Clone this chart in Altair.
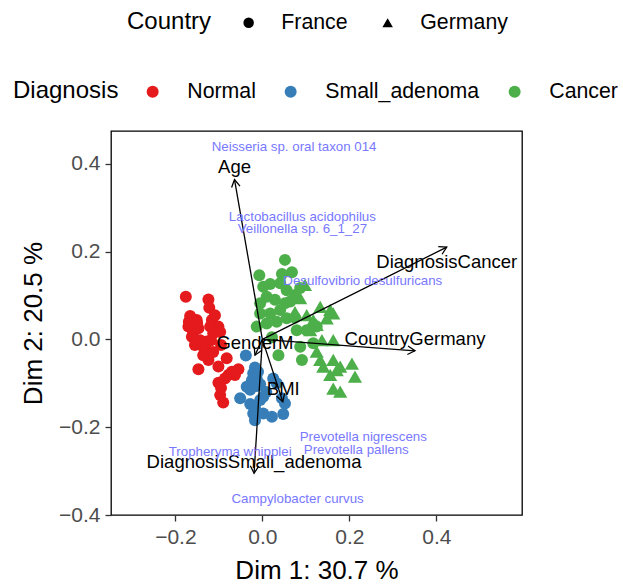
import math

import altair as alt
import pandas as pd

# ---- sample scores on the first two dimensions ----
normal_x = [-0.176, -0.124, -0.122, -0.169, -0.151, -0.170, -0.159, -0.147, -0.116, -0.120,
            -0.101, -0.097, -0.113, -0.162, -0.143, -0.128, -0.155, -0.136, -0.136, -0.124,
            -0.128, -0.082, -0.147, -0.101, -0.055, -0.063, -0.078, -0.086, -0.101, -0.097,
            -0.090, -0.166, -0.109, -0.118, -0.095, -0.113, -0.070, -0.095, -0.150]
normal_y = [0.097, 0.091, 0.072, 0.040, 0.044, 0.029, 0.017, 0.025, 0.044, 0.029,
            0.029, 0.017, 0.014, 0.006, -0.002, -0.005, -0.013, -0.017, -0.036, -0.047,
            -0.024, -0.043, -0.068, -0.062, -0.068, -0.081, -0.081, -0.089, -0.099, -0.127,
            -0.144, 0.053, 0.055, -0.002, -0.013, -0.029, -0.074, -0.111, 0.037]

small_x = [-0.038, -0.017, -0.021, -0.013, -0.024, -0.036, -0.028, -0.013, -0.005, 0.025,
           0.033, -0.051, -0.028, -0.017, -0.005, 0.002, 0.052, 0.048, -0.021, -0.017,
           0.002, 0.022, 0.045, -0.010, 0.009]
small_y = [-0.037, -0.064, -0.077, -0.089, -0.093, -0.108, -0.115, -0.106, -0.102, -0.089,
           -0.100, -0.134, -0.147, -0.154, -0.138, -0.131, -0.146, -0.170, -0.169, -0.184,
           -0.169, -0.176, -0.134, -0.074, -0.120]

cancer_fr_x = [0.052, -0.007, 0.045, 0.002, 0.018, 0.041, 0.056, -0.005, 0.010, 0.029,
               0.052, 0.064, -0.005, 0.018, 0.041, 0.056, -0.013, 0.010, 0.033, 0.079,
               0.102, 0.125, 0.037, 0.091, 0.087, 0.117, 0.075, 0.022, 0.068, 0.087, 0.075]
cancer_fr_y = [0.181, 0.146, 0.149, 0.120, 0.126, 0.128, 0.112, 0.082, 0.097, 0.090,
               0.082, 0.086, 0.059, 0.059, 0.067, 0.048, 0.029, 0.036, 0.040, 0.021,
               0.021, 0.029, -0.036, -0.047, -0.017, -0.009, 0.049, 0.005, 0.153, 0.117, 0.101]

cancer_de_x = [0.098, 0.133, 0.156, 0.163, 0.148, 0.102, 0.117, 0.125, 0.110, 0.163,
               0.125, 0.133, 0.140, 0.163, 0.179, 0.171, 0.206, 0.156, 0.213, 0.163,
               0.179, 0.087, 0.137, 0.075]
cancer_de_y = [0.124, 0.074, 0.067, 0.059, 0.048, 0.055, 0.044, 0.033, 0.021, -0.002,
               -0.028, -0.047, -0.062, -0.047, -0.062, -0.070, -0.055, -0.081, -0.085, -0.112,
               -0.119, 0.094, -0.002, 0.062]

# ---- explanatory variables (arrows) ----
var_names = ["Age", "DiagnosisCancer", "CountryGermany", "GenderM", "BMI",
             "DiagnosisSmall_adenoma"]
var_x = [-0.064, 0.424, 0.351, -0.017, 0.047, -0.019]
var_y = [0.364, 0.210, -0.026, -0.036, -0.142, -0.305]
var_label_x = [-0.064, 0.424, 0.351, -0.017, 0.048, -0.019]
var_label_y = [0.392, 0.177, 0.000, -0.008, -0.114, -0.279]

# ---- species labels ----
sp_names = ["Neisseria sp. oral taxon 014", "Lactobacillus acidophilus",
            "Veillonella sp. 6_1_27", "Desulfovibrio desulfuricans",
            "Prevotella nigrescens", "Prevotella pallens", "Tropheryma whipplei",
            "Campylobacter curvus"]
sp_x = [0.073, 0.092, 0.092, 0.231, 0.232, 0.216, -0.074, 0.081]
sp_y = [0.437, 0.278, 0.251, 0.133, -0.223, -0.252, -0.256, -0.364]

diag_levels = ["Normal", "Small_adenoma", "Cancer"]
diag_colors = ["#E41A1C", "#377EB8", "#4DAF4A"]
country_levels = ["France", "Germany"]

X_DOMAIN = [-0.348, 0.597]
Y_DOMAIN = [-0.400, 0.4745]
W, H = 411, 384
FONT = "Liberation Sans"


def group(xs, ys, diag, country):
    return pd.DataFrame({"x": xs, "y": ys, "Diagnosis": diag, "Country": country})


points = pd.concat([
    group(normal_x, normal_y, "Normal", "France"),
    group(small_x, small_y, "Small_adenoma", "France"),
    group(cancer_fr_x, cancer_fr_y, "Cancer", "France"),
    group(cancer_de_x, cancer_de_y, "Cancer", "Germany"),
], ignore_index=True)

# pixel-per-unit ratios, used to orient the arrow heads on screen
sx = W / (X_DOMAIN[1] - X_DOMAIN[0])
sy = H / (Y_DOMAIN[1] - Y_DOMAIN[0])

arrows = pd.DataFrame({"name": var_names, "x": var_x, "y": var_y})
arrows["x0"] = 0.0
arrows["y0"] = 0.0
arrows["ang"] = [
    math.degrees(math.atan2(ax * sx, ay * sy)) % 360 for ax, ay in zip(var_x, var_y)
]
var_labels = pd.DataFrame({"name": var_names, "x": var_label_x, "y": var_label_y})
species = pd.DataFrame({"name": sp_names, "x": sp_x, "y": sp_y})

xs = alt.Scale(domain=X_DOMAIN, nice=False, zero=False)
ys = alt.Scale(domain=Y_DOMAIN, nice=False, zero=False)
x_axis = alt.Axis(values=[-0.2, 0.0, 0.2, 0.4], format=".1f", title="Dim 1: 30.7 %",
                  titlePadding=10)
y_axis = alt.Axis(values=[-0.4, -0.2, 0.0, 0.2, 0.4], format=".1f", title="Dim 2: 20.5 %",
                  titlePadding=12)

X = alt.X("x:Q", scale=xs, axis=x_axis)
Y = alt.Y("y:Q", scale=ys, axis=y_axis)

color_enc = alt.Color(
    "Diagnosis:N",
    scale=alt.Scale(domain=diag_levels, range=diag_colors),
    legend=alt.Legend(orient="none", legendX=-98, legendY=-50, direction="horizontal",
                      titleOrient="left", symbolType="circle", symbolSize=144,
                      labelOffset=24, columnPadding=24, titlePadding=23),
)
shape_enc = alt.Shape(
    "Country:N",
    scale=alt.Scale(domain=country_levels, range=["circle", "triangle-up"]),
    legend=alt.Legend(orient="none", legendX=16, legendY=-119, direction="horizontal",
                      titleOrient="left", symbolSize=110, symbolFillColor="black",
                      labelOffset=22, columnPadding=29, titlePadding=26),
)

base_pts = alt.Chart(points).encode(x=X, y=Y, color=color_enc, shape=shape_enc)

# circles (France) and triangles (Germany) are drawn at slightly different sizes
circles = base_pts.mark_point(filled=True, opacity=1, strokeWidth=0, size=144).transform_filter(
    alt.datum.Country == "France"
)
triangles = base_pts.mark_point(filled=True, opacity=1, strokeWidth=0, size=200).transform_filter(
    alt.datum.Country == "Germany"
)

shafts = alt.Chart(arrows).mark_rule(color="black", strokeWidth=1.3).encode(
    x=alt.X("x0:Q", scale=xs, axis=x_axis),
    y=alt.Y("y0:Q", scale=ys, axis=y_axis),
    x2="x:Q",
    y2="y:Q",
)

heads = alt.Chart(arrows).mark_point(
    shape="M -0.5 0.866 L 0 0 L 0.5 0.866",
    filled=False,
    stroke="black",
    strokeWidth=1.3,
    size=289,
    opacity=1,
).encode(x=X, y=Y, angle=alt.Angle("ang:Q", scale=None))

var_text = alt.Chart(var_labels).mark_text(
    font=FONT, fontSize=18.5, color="black", align="center", baseline="middle"
).encode(x=X, y=Y, text="name:N")

sp_text = alt.Chart(species).mark_text(
    font=FONT, fontSize=13.3, color="#7878FF", align="center", baseline="middle"
).encode(x=X, y=Y, text="name:N")

chart = (
    alt.layer(circles, triangles, shafts, heads, var_text, sp_text)
    .properties(
        width=W,
        height=H,
        padding={"left": 111, "top": 131, "right": 101, "bottom": 71},
        autosize=alt.AutoSizeParams(type="none"),
    )
    .configure_view(stroke="black", strokeWidth=1.3)
    .configure_axis(
        grid=False,
        domain=False,
        labelFont=FONT,
        labelFontSize=21,
        labelColor="#4D4D4D",
        labelPadding=5,
        tickColor="#333333",
        tickSize=6,
        tickWidth=1.3,
        titleFont=FONT,
        titleFontSize=26,
        titleFontWeight="normal",
        titleColor="black",
    )
    .configure_legend(
        padding=0,
        labelFont=FONT,
        labelFontSize=21.3,
        labelColor="black",
        labelLimit=300,
        titleFont=FONT,
        titleFontSize=24,
        titleFontWeight="normal",
        titleColor="black",
        symbolStrokeWidth=0,
    )
)

chart.save("out.html", embed_options={"renderer": "svg", "actions": False})
